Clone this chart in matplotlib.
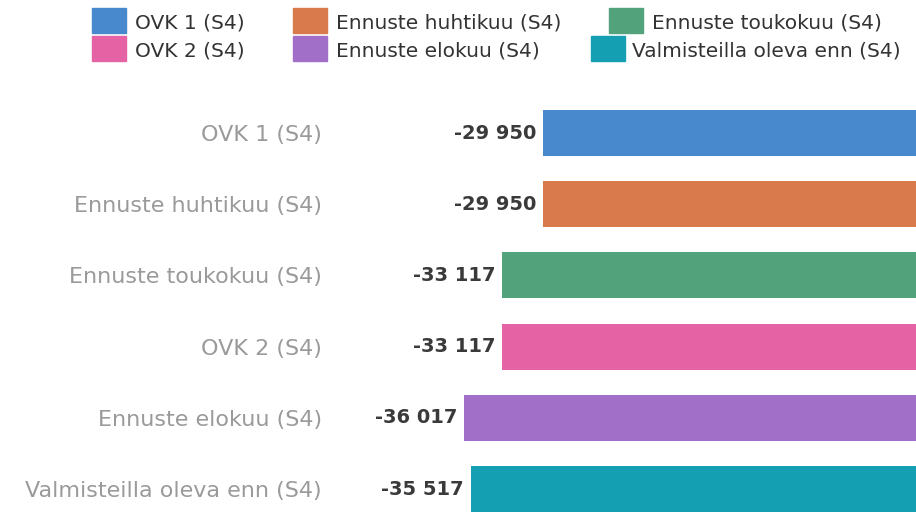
import matplotlib
matplotlib.use("Agg")
import matplotlib.pyplot as plt
from matplotlib.patches import Rectangle

categories = ["OVK 1 (S4)", "Ennuste huhtikuu (S4)", "Ennuste toukokuu (S4)",
              "OVK 2 (S4)", "Ennuste elokuu (S4)", "Valmisteilla oleva enn (S4)"]
values = [-29950, -29950, -33117, -33117, -36017, -35517]
colors = ["#4888CC", "#D97A4C", "#52A27C", "#E563A5", "#A26FC8", "#14A0B2"]
legend_order = [0, 1, 2, 3, 4, 5]

W, H = 916, 518
fig = plt.figure(figsize=(W / 100, H / 100), dpi=100)
plt.rcParams['font.family'] = ['DejaVu Sans']

# axes spanning pixel x 340..916, y 97..518
ax = fig.add_axes([340 / W, 0, 1 - 340 / W, (518 - 97.4) / H])
y = list(range(len(categories)))
ax.barh(y, values, height=0.646, color=colors)
k = 0.013032
x0 = 933.8
ax.set_xlim(-(x0 - 340) / k, -(x0 - 916) / k)
ax.set_ylim(5.407, -0.5)
for s in ax.spines.values():
    s.set_visible(False)
ax.set_xticks([])
ax.set_yticks(y)
ax.set_yticklabels(categories, fontsize=16, color="#9a9a9a")
ax.tick_params(axis="y", length=0, pad=13)

for yi, v in zip(y, values):
    lab = f"{v:,}".replace(",", " ")
    ax.annotate(lab, (v, yi), xytext=(-5, 0), textcoords="offset points",
                ha="right", va="center", fontsize=14, fontweight="bold",
                color="#3a3a3a")

# legend (manual, 2 rows x 3 cols)
sq_x = [92, 293, 609]
txt_x = [135, 336, 652]
row_y = [8, 36]
for n, idx in enumerate(legend_order):
    r, c = divmod(n, 3)
    sx, tx = sq_x[c], txt_x[c]
    if r == 1 and c == 2:
        sx, tx = 591, 632
    fig.add_artist(Rectangle((sx / W, 1 - (row_y[r] + 25) / H), 34 / W, 25 / H,
                             transform=fig.transFigure, color=colors[idx]))
    fig.text(tx / W, 1 - (row_y[r] + 15) / H, categories[idx], ha="left",
             va="center", fontsize=14.5, color="#333333")

fig.savefig("out.png", dpi=100, facecolor="white")
